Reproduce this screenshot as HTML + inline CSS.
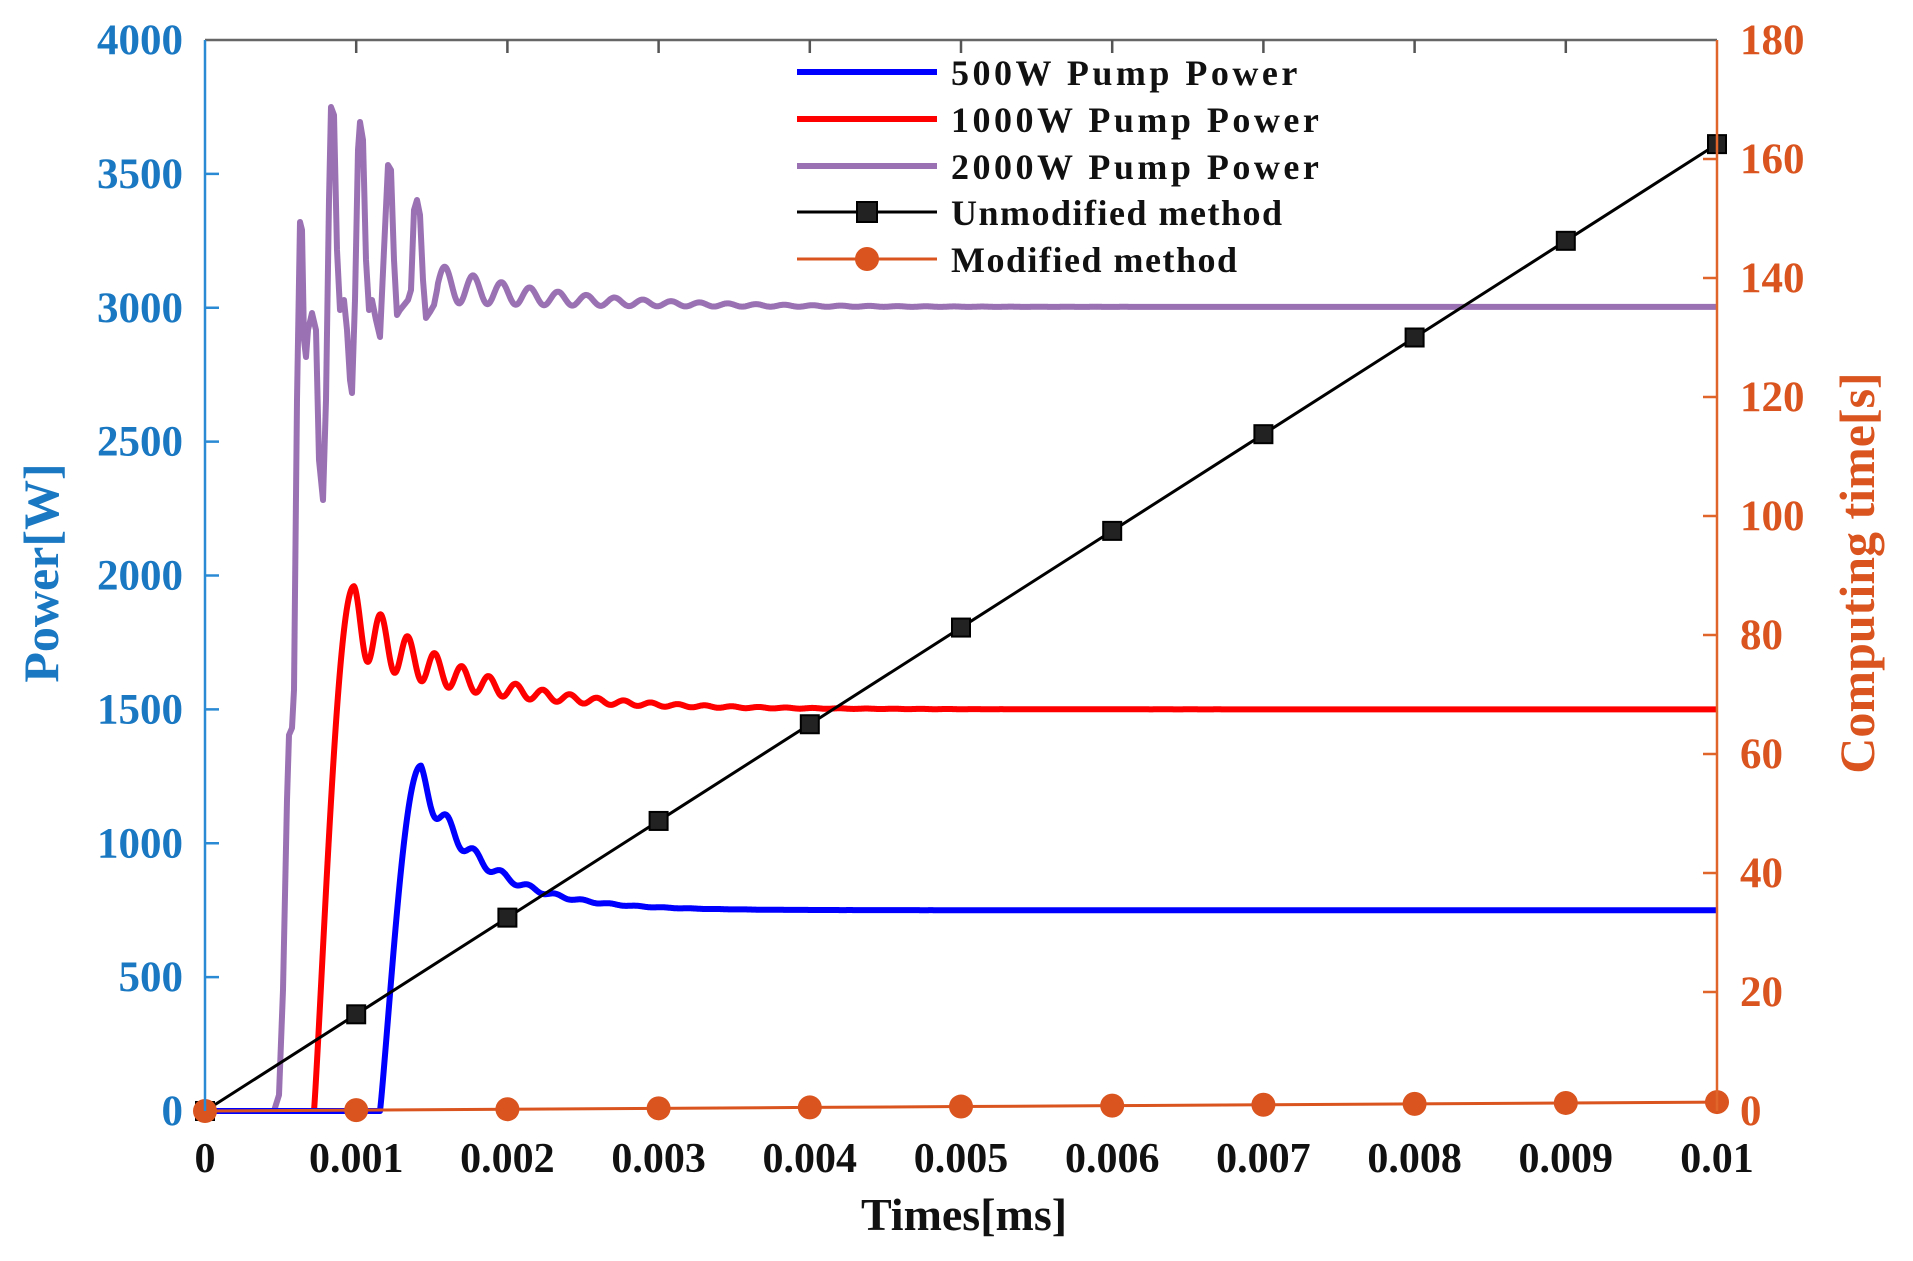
<!DOCTYPE html>
<html><head><meta charset="utf-8"><style>
html,body{margin:0;padding:0;background:#fff;}
svg{display:block;}
text{font-family:"Liberation Serif",serif;font-weight:bold;}
</style></head><body>
<svg id="s" width="1913" height="1261" viewBox="0 0 1913 1261" xmlns="http://www.w3.org/2000/svg">
<rect width="1913" height="1261" fill="#fff"/>
<path id="purple" fill="none" stroke="#9a72b3" stroke-width="6" stroke-linejoin="round"/>
<path id="red" fill="none" stroke="#ff0000" stroke-width="6" stroke-linejoin="round"/>
<path id="blue" fill="none" stroke="#0000ff" stroke-width="6" stroke-linejoin="round"/>
<g id="black"></g>
<g id="orange"></g>
<line x1="205" y1="40" x2="1717" y2="40" stroke="#666" stroke-width="2.5"/>
<line x1="205" y1="40" x2="205" y2="1111" stroke="#2a8ad4" stroke-width="2.5"/>
<line x1="1717" y1="40" x2="1717" y2="1111" stroke="#e0652a" stroke-width="2.5"/>
<g id="ticks"></g>
<g>
<line x1="797" y1="72" x2="937" y2="72" stroke="#0000ff" stroke-width="6"/>
<line x1="797" y1="119" x2="937" y2="119" stroke="#ff0000" stroke-width="6"/>
<line x1="797" y1="166" x2="937" y2="166" stroke="#9a72b3" stroke-width="6"/>
<line x1="797" y1="212" x2="937" y2="212" stroke="#000" stroke-width="3"/>
<rect x="857" y="202" width="20" height="20" fill="#222" stroke="#000" stroke-width="2"/>
<line x1="797" y1="259" x2="937" y2="259" stroke="#d9541e" stroke-width="3"/>
<circle cx="867" cy="259" r="12" fill="#d9541e"/>
<g font-size="36" fill="#111">
<text x="951" y="85" letter-spacing="3.5">500W Pump Power</text>
<text x="951" y="132" letter-spacing="3.5">1000W Pump Power</text>
<text x="951" y="179" letter-spacing="3.5">2000W Pump Power</text>
<text x="951" y="225" letter-spacing="1.5">Unmodified method</text>
<text x="951" y="272" letter-spacing="1.5">Modified method</text>
</g>
</g>
<text x="58" y="573" font-size="50" fill="#1a78c2" text-anchor="middle" transform="rotate(-90 58 573)">Power[W]</text>
<text x="1874" y="573" font-size="50" fill="#d9541e" text-anchor="middle" transform="rotate(-90 1874 573)">Computing time[s]</text>
<text x="964" y="1230" font-size="46" fill="#111" text-anchor="middle">Times[ms]</text>
</svg>
<script>
var NS="http://www.w3.org/2000/svg";
function el(p,t,a,txt){var e=document.createElementNS(NS,t);for(var k in a)e.setAttribute(k,a[k]);if(txt!==undefined)e.textContent=txt;document.getElementById(p).appendChild(e);return e;}
var X0=205,X1=1717,Y0=1111,Y1=40,H=Y0-Y1;
function X(t){return X0+t*(X1-X0)/0.01;}
function YL(p){return Y0-p*H/4000;}
function YR(s){return Y0-s*H/180;}
for(var i=0;i<=8;i++){var y=YL(i*500);
 if(i>0&&i<8)el("ticks","line",{x1:205,y1:y,x2:219,y2:y,stroke:"#2a8ad4","stroke-width":2.5});
 el("ticks","text",{x:183,y:y+14,"font-size":43,fill:"#1a78c2","text-anchor":"end"},String(i*500));}
for(var i=0;i<=9;i++){var y=YR(i*20);
 if(i>0&&i<9)el("ticks","line",{x1:1703,y1:y,x2:1717,y2:y,stroke:"#e0652a","stroke-width":2.5});
 el("ticks","text",{x:1740,y:y+14,"font-size":43,fill:"#d9541e"},String(i*20));}
var xl=["0","0.001","0.002","0.003","0.004","0.005","0.006","0.007","0.008","0.009","0.01"];
for(var i=0;i<=10;i++){var x=X(i*0.001);
 if(i>0&&i<10)el("ticks","line",{x1:x,y1:40,x2:x,y2:53,stroke:"#555","stroke-width":2.5});
 el("ticks","text",{x:x,y:1172,"font-size":42,fill:"#111","text-anchor":"middle"},xl[i]);}
function rise(u){return Math.pow(0.5-0.5*Math.cos(Math.PI*u),0.55);}
function curve(xs,xp,peak,S,tau,mid,T){
 var d="M205,"+Y0;
 for(var x=205;x<=1717;x+=0.5){var p;
  if(x<xs)p=0;else if(x<xp)p=peak*rise((x-xs)/(xp-xs));
  else{var E=(peak-S)*Math.exp(-(x-xp)/tau);p=S+E*(mid+(1-mid)*Math.cos(2*Math.PI*(x-xp)/T));}
  d+=" L"+x.toFixed(1)+","+YL(p).toFixed(1);}
 return d;}
document.getElementById("red").setAttribute("d",curve(314,354,1960,1500,103,0.72,27));
document.getElementById("blue").setAttribute("d",curve(380,421,1290,750,62,0.9,27));
var pts=[[205,1111],[274,1111],[279,1095],[283,990],[287,800],[289,735],[292,728],[294,690],[297,400],[300,222],[302,230],[304,340],[306,357],[308,330],[312,313],[316,330],[319,460],[323,500],[326,400],[329,200],[331,107],[334,115],[337,250],[340,310],[344,300],[347,330],[350,380],[352,393],[355,300],[358,150],[360,122],[363,140],[366,260],[369,310],[372,300],[376,320],[380,337],[384,250],[388,165],[391,170],[394,260],[397,315],[400,310],[404,305],[408,300],[411,290],[414,210],[417,200],[420,215],[423,280],[426,318],[430,312],[434,305],[437,290]];
var d="M"+pts.map(function(p){return p[0]+","+p[1];}).join(" L");
for(var x=438;x<=1717;x+=0.5){var A=150*Math.exp(-(x-445)/117);
 var p=3003+A*(0.55+0.45*Math.cos(2*Math.PI*(x-445)/28.3));d+=" L"+x.toFixed(1)+","+YL(p).toFixed(1);}
document.getElementById("purple").setAttribute("d",d);
var bd="M205,"+Y0;for(var k=1;k<=10;k++)bd+=" L"+X(k*0.001)+","+YR(k*16.25);
el("black","path",{d:bd,fill:"none",stroke:"#000","stroke-width":3});
for(var k=0;k<=10;k++){var x=X(k*0.001),y=k==0?Y0:YR(k*16.25);
 el("black","rect",{x:x-9,y:y-9,width:18,height:18,fill:"#222",stroke:"#000","stroke-width":2});}
var od="M205,"+Y0;for(var k=1;k<=10;k++)od+=" L"+X(k*0.001)+","+YR(k*0.15);
el("orange","path",{d:od,fill:"none",stroke:"#d9541e","stroke-width":3});
for(var k=0;k<=10;k++){el("orange","circle",{cx:X(k*0.001),cy:YR(k*0.15),r:12,fill:"#d9541e"});}
</script>
</body></html>
